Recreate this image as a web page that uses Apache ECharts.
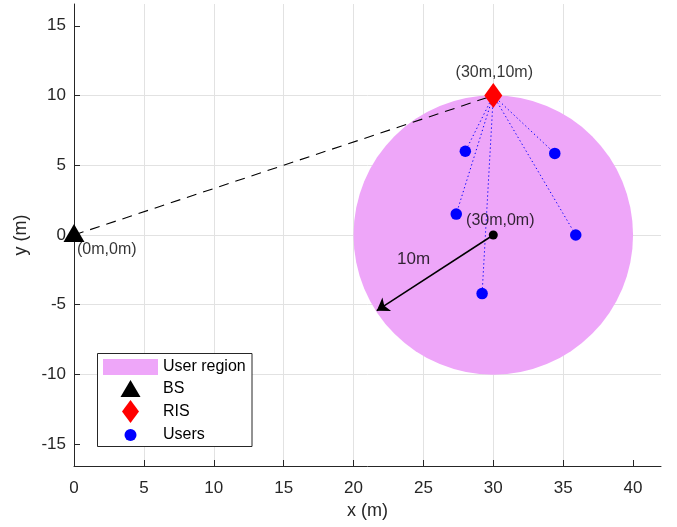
<!DOCTYPE html>
<html>
<head>
<meta charset="utf-8">
<script src="https://cdn.jsdelivr.net/npm/echarts@6/dist/echarts.min.js"></script>
<style>
html,body{margin:0;padding:0;background:#fff;}
#chart{width:677px;height:527px;}
</style>
</head>
<body>
<div id="chart"></div>
<script>
// ---- data ----
const xTicks = [0, 5, 10, 15, 20, 25, 30, 35, 40];
const yTicks = [-15, -10, -5, 0, 5, 10, 15];
const bsPos = [[0, 0]];
const risPos = [[30, 10]];
const regionCenter = [30, 0];
const regionRadius = 10;
const userPos = [[28.0, 6.0], [34.4, 5.85], [27.35, 1.5], [35.9, 0.0], [29.2, -4.2]];
const radiusArrow = [[30, 0], [21.66, -5.43]];
const annotations = [
  { text: '(0m,0m)', pos: [0, 0] },
  { text: '(30m,10m)', pos: [30, 10] },
  { text: '(30m,0m)', pos: [30, 0] },
  { text: '10m', pos: [24.3, -1.75] }
];
const legendNames = ['User region', 'BS', 'RIS', 'Users'];

// ---- chart ----
const FONT = 'Liberation Sans, Arial, Helvetica, sans-serif';
const AX = '#262626';
const GRID = '#e2e2e2';
const chart = echarts.init(document.getElementById('chart'), null, { renderer: 'canvas' });

const labelStyles = [
  { align: 'left', offset: [3, 15], fontSize: 16 },
  { align: 'center', offset: [1, -23], fontSize: 16 },
  { align: 'center', offset: [7, -14], fontSize: 16 },
  { align: 'center', offset: [0, 0], fontSize: 17 }
];

const series = [
  {
    type: 'custom',
    name: legendNames[0],
    z: 1,
    itemStyle: { color: '#eea6f9', opacity: 1 },
    encode: { x: 0, y: 1 },
    data: [[regionCenter[0], regionCenter[1], regionRadius]],
    renderItem: function (params, api) {
      const c = api.coord([api.value(0), api.value(1)]);
      const r = api.size([api.value(2), 0])[0];
      return { type: 'circle', shape: { cx: c[0], cy: c[1], r: r }, style: { fill: api.visual('color') } };
    },
    silent: true
  },
  {
    type: 'line',
    data: [bsPos[0], risPos[0]],
    symbol: 'none',
    z: 3,
    lineStyle: { color: '#000', width: 1.1, type: [10, 7] },
    silent: true
  }
];
userPos.forEach(function (u) {
  series.push({
    type: 'line',
    data: [risPos[0], u],
    symbol: 'none',
    z: 3,
    lineStyle: { color: '#0000ff', width: 1, type: [1.3, 2.7] },
    silent: true
  });
});
series.push({
  type: 'lines',
  coordinateSystem: 'cartesian2d',
  z: 4,
  symbol: ['none', 'arrow'],
  symbolSize: 12,
  lineStyle: { color: '#000', width: 1.5, opacity: 1 },
  data: [{ coords: radiusArrow }],
  silent: true
});
series.push({
  type: 'scatter',
  z: 5,
  symbol: 'circle',
  symbolSize: 9,
  itemStyle: { color: '#000', opacity: 1 },
  data: [radiusArrow[0]],
  clip: false,
  silent: true
});
series.push({
  type: 'scatter', name: legendNames[1], z: 6, clip: false,
  symbol: 'triangle', symbolSize: [21, 18], symbolOffset: [0, -2],
  itemStyle: { color: '#000', opacity: 1 }, data: bsPos, silent: true
});
series.push({
  type: 'scatter', name: legendNames[2], z: 6, clip: false,
  symbol: 'diamond', symbolSize: [18, 25],
  itemStyle: { color: '#ff0000', opacity: 1 }, data: risPos, silent: true
});
series.push({
  type: 'scatter', name: legendNames[3], z: 6, clip: false,
  symbol: 'circle', symbolSize: 11.5,
  itemStyle: { color: '#0000ff', opacity: 1 }, data: userPos, silent: true
});
series.push({
  type: 'scatter', z: 7, clip: false, symbolSize: 0, silent: true,
  data: annotations.map(function (a, i) {
    const s = labelStyles[i];
    return {
      value: a.pos,
      label: {
        show: true, formatter: a.text, position: 'inside',
        align: s.align, verticalAlign: 'middle', offset: s.offset,
        fontSize: s.fontSize, color: '#000', fontFamily: FONT
      }
    };
  })
});

// icon column centred at x = 130.5, text starting at x = 163
function mkLegend(name, top, h, iconW, icon) {
  return {
    data: [{ name: name, icon: icon }],
    left: 130.5 - iconW / 2, top: top, padding: 0,
    itemWidth: 55, itemHeight: h, itemGap: 0,
    symbolKeepAspect: true,
    selectedMode: false, z: 20,
    itemStyle: { opacity: 1 },
    textStyle: { fontSize: 16, color: '#000', fontFamily: FONT }
  };
}

const option = {
  animation: false,
  backgroundColor: '#fff',
  grid: { left: 74, right: 16, top: 4, bottom: 61, containLabel: false },
  xAxis: {
    type: 'value', min: 0, max: 42, interval: 5,
    axisLine: { show: true, onZero: false, lineStyle: { color: AX, width: 1 } },
    axisTick: { show: true, inside: true, length: 6, customValues: xTicks, lineStyle: { color: AX } },
    axisLabel: { customValues: xTicks, fontSize: 17, color: AX, margin: 14, fontFamily: FONT },
    splitLine: { show: true, showMinLine: false, showMaxLine: false, lineStyle: { color: GRID, width: 1 } },
    name: 'x (m)', nameLocation: 'middle', nameGap: 33,
    nameTextStyle: { fontSize: 18, color: AX, fontFamily: FONT }
  },
  yAxis: {
    type: 'value', min: -16.56, max: 16.56, minInterval: 5, maxInterval: 5, splitNumber: 7,
    axisLine: { show: true, onZero: false, lineStyle: { color: AX, width: 1 } },
    axisTick: { show: true, inside: true, length: 6, customValues: yTicks, lineStyle: { color: AX } },
    axisLabel: { customValues: yTicks, fontSize: 17, color: AX, margin: 8, fontFamily: FONT },
    splitLine: { show: true, showMinLine: false, showMaxLine: false, lineStyle: { color: GRID, width: 1 } },
    name: 'y (m)', nameLocation: 'middle', nameGap: 40,
    nameTextStyle: { fontSize: 18, color: AX, fontFamily: FONT }
  },
  legend: [
    mkLegend(legendNames[0], 359, 16, 55, 'rect'),
    mkLegend(legendNames[1], 380, 17, 20, 'path://M10,0L20,17L0,17Z'),
    mkLegend(legendNames[2], 400, 23, 17, 'path://M8.5,0L17,11.5L8.5,23L0,11.5Z'),
    mkLegend(legendNames[3], 427, 12, 12, 'circle')
  ],
  graphic: [{
    type: 'rect', z: 10, silent: true,
    shape: { x: 97.5, y: 353.5, width: 154.5, height: 93 },
    style: { fill: '#fff', stroke: AX, lineWidth: 1 }
  }],
  series: series
};
chart.setOption(option);
</script>
</body>
</html>
